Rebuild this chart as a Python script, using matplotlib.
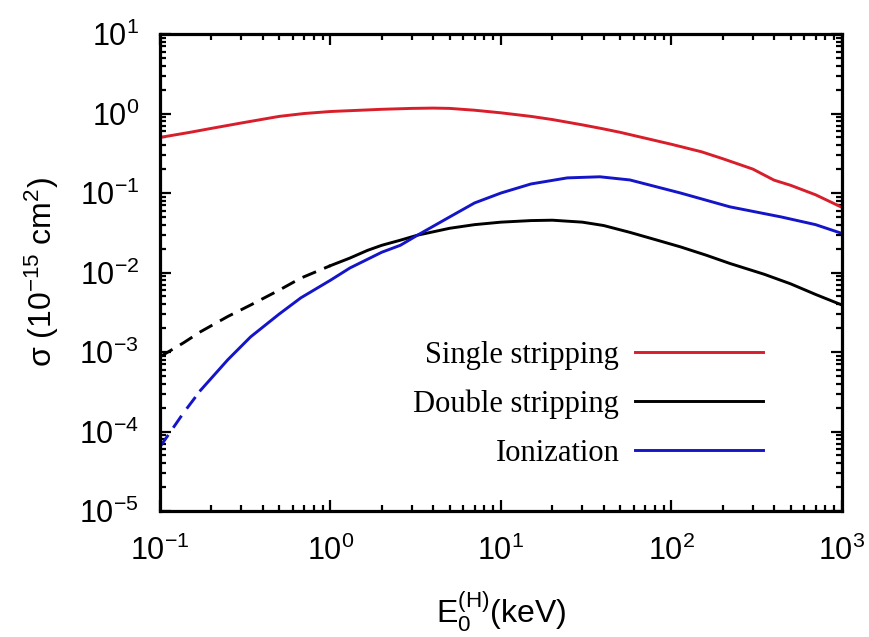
import numpy as np
import matplotlib
matplotlib.use("Agg")
import matplotlib.pyplot as plt
from matplotlib.ticker import LogLocator, NullFormatter

plt.rcParams["mathtext.fontset"] = "custom"
plt.rcParams["mathtext.rm"] = "Liberation Sans"
plt.rcParams["mathtext.it"] = "Liberation Sans:italic"
plt.rcParams["mathtext.bf"] = "Liberation Sans:bold"
plt.rcParams["font.family"] = ["Liberation Sans", "DejaVu Sans"]

# Cross sections (10^-15 cm^2) versus projectile energy (keV)
e_single = [0.1, 0.15, 0.2, 0.3, 0.5, 0.7, 1, 1.5, 2, 3, 4, 5, 7, 10, 15, 20,
            30, 40, 50, 70, 100, 150, 200, 300, 400, 500, 700, 1000]
single_stripping = [0.50, 0.58, 0.65, 0.76, 0.92, 1.00, 1.06, 1.10, 1.13, 1.16,
                    1.17, 1.16, 1.10, 1.02, 0.92, 0.84, 0.72, 0.64, 0.58, 0.49,
                    0.41, 0.33, 0.27, 0.20, 0.145, 0.125, 0.095, 0.066]

e_double = [0.1, 0.137, 0.173, 0.25, 0.34, 0.5, 0.67, 1.0, 1.3, 1.65, 2.0, 2.57,
            3.24, 5, 7, 10, 15, 20, 30, 40, 57, 80, 113, 160, 220, 350, 500,
            700, 1000]
double_stripping = [8.7e-4, 1.3e-3, 1.8e-3, 2.8e-3, 3.9e-3, 6.0e-3, 8.5e-3,
                    0.0122, 0.0152, 0.019, 0.022, 0.0255, 0.0295, 0.036, 0.040,
                    0.043, 0.045, 0.0455, 0.043, 0.039, 0.032, 0.026, 0.021,
                    0.0165, 0.013, 0.0095, 0.0072, 0.0053, 0.0039]
double_dashed_upto = 1.0

e_ion = [0.1, 0.137, 0.173, 0.25, 0.34, 0.5, 0.67, 1.0, 1.3, 2.0, 2.57, 3.24,
         5, 7, 10, 15, 24.5, 38, 57, 113, 220, 440, 700, 1000]
ionization = [6.4e-5, 1.7e-4, 3.3e-4, 8.0e-4, 1.55e-3, 3.0e-3, 4.8e-3, 8.0e-3,
              0.0114, 0.018, 0.022, 0.0295, 0.05, 0.075, 0.10, 0.13, 0.155,
              0.16, 0.146, 0.10, 0.067, 0.05, 0.04, 0.031]
ion_dashed_upto = 0.173

labels = ["Single stripping", "Double stripping", "Ionization"]
colors = ["#d81e2a", "#000000", "#1414c8"]

x_ticks = [0.1, 1, 10, 100, 1000]
x_ticklabels = [r"$\mathregular{10^{-1}}$", r"$\mathregular{10^{0}}$",
                r"$\mathregular{10^{1}}$", r"$\mathregular{10^{2}}$",
                r"$\mathregular{10^{3}}$"]
y_ticks = [1e-5, 1e-4, 1e-3, 1e-2, 1e-1, 1, 10]
y_ticklabels = [r"$\mathregular{10^{-5}}$", r"$\mathregular{10^{-4}}$",
                r"$\mathregular{10^{-3}}$", r"$\mathregular{10^{-2}}$",
                r"$\mathregular{10^{-1}}$", r"$\mathregular{10^{0}}$",
                r"$\mathregular{10^{1}}$"]

fig = plt.figure(figsize=(8.69, 6.37), dpi=100)
ax = fig.add_axes([0.1841, 0.1978, 0.7848, 0.7488])

lw = 2.1
dash = (5, 3)


def draw(ax, e, v, color, label, dashed_upto=None):
    e = np.asarray(e)
    v = np.asarray(v)
    if dashed_upto is None:
        line, = ax.plot(e, v, color=color, lw=lw, label=label)
        return line
    m1 = e <= dashed_upto
    m2 = e >= dashed_upto
    ax.plot(e[m1], v[m1], color=color, lw=lw, dashes=dash)
    line, = ax.plot(e[m2], v[m2], color=color, lw=lw, label=label)
    return line


h1 = draw(ax, e_single, single_stripping, colors[0], labels[0])
h2 = draw(ax, e_double, double_stripping, colors[1], labels[1], double_dashed_upto)
h3 = draw(ax, e_ion, ionization, colors[2], labels[2], ion_dashed_upto)

ax.set_xscale("log")
ax.set_yscale("log")
ax.set_xlim(0.1, 1000)
ax.set_ylim(1e-5, 10)

ax.xaxis.set_minor_locator(LogLocator(base=10, subs=np.arange(2, 10), numticks=20))
ax.yaxis.set_minor_locator(LogLocator(base=10, subs=np.arange(2, 10), numticks=20))
ax.xaxis.set_minor_formatter(NullFormatter())
ax.yaxis.set_minor_formatter(NullFormatter())

ax.set_xticks(x_ticks)
ax.set_xticklabels(x_ticklabels)
ax.set_yticks(y_ticks)
ax.set_yticklabels(y_ticklabels)

ax.tick_params(which="both", direction="in", top=True, right=True, width=1.6,
               colors="black")
ax.tick_params(which="major", length=8, labelsize=22)
ax.tick_params(which="minor", length=4.5)
ax.tick_params(axis="x", which="major", pad=18)
ax.tick_params(axis="y", which="major", pad=15)
for s in ax.spines.values():
    s.set_linewidth(2.3)

ax.set_xlabel(r"$\mathregular{E_0^{(H)}(keV)}$", fontsize=23, labelpad=16)
ax.set_ylabel(r"$\mathregular{\sigma\ (10^{-15}\ cm^2)}$", fontsize=23, labelpad=13)

leg = ax.legend(handles=[h1, h2, h3], loc="upper right",
                bbox_to_anchor=(0.884, 0.357), frameon=False, markerfirst=False,
                prop={"family": "Liberation Serif", "size": 22},
                handlelength=4.2, handletextpad=0.5, labelspacing=0.65,
                borderpad=0, borderaxespad=0)

fig.savefig("out.png", dpi=100)
